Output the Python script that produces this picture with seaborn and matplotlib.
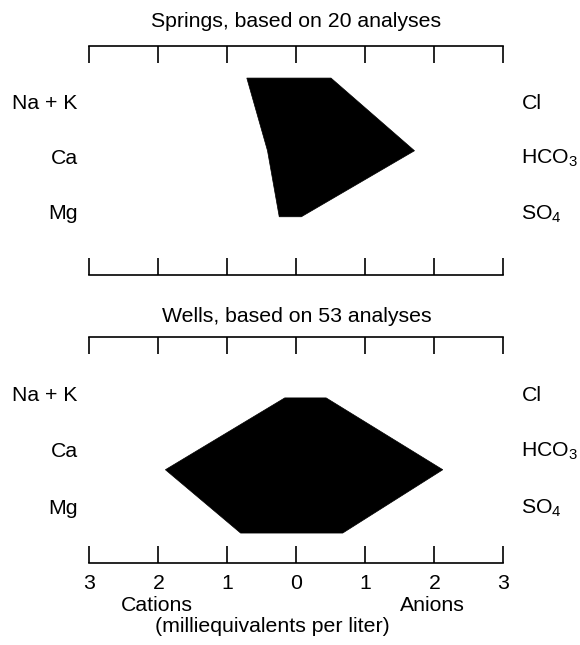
import numpy as np
import pandas as pd
import matplotlib
matplotlib.use('Agg')
import matplotlib.pyplot as plt
import matplotlib.transforms as mtransforms
import seaborn as sns

# ============================================================================
# DATA (milliequivalents per liter)
# ============================================================================

cation_labels = ['Na + K', 'Ca', 'Mg']
anion_labels = ['Cl', 'HCO$_\\mathregular{3}$', 'SO$_\\mathregular{4}$']
tick_values = [-3, -2, -1, 0, 1, 2, 3]
tick_labels = ['3', '2', '1', '0', '1', '2', '3']

springs_title = 'Springs, based on 20 analyses'
springs_cations = [0.72, 0.42, 0.25]
springs_anions = [0.50, 1.71, 0.07]
springs_rows = [0.55, 1.86, 3.05]

wells_title = 'Wells, based on 53 analyses'
wells_cations = [0.17, 1.90, 0.81]
wells_anions = [0.43, 2.12, 0.67]
wells_rows = [1.05, 2.32, 3.44]

label_rows = [1, 2, 3]

# ============================================================================
# STYLE
# ============================================================================

sns.set_theme(style='white')
plt.rcParams['font.family'] = ['Liberation Sans', 'DejaVu Sans']
plt.rcParams['mathtext.fontset'] = 'custom'
plt.rcParams['mathtext.rm'] = 'Liberation Sans'
plt.rcParams['mathtext.it'] = 'Liberation Sans:italic'
plt.rcParams['mathtext.bf'] = 'Liberation Sans:bold'
plt.rcParams['text.color'] = 'black'
plt.rcParams['xtick.color'] = 'black'
plt.rcParams['axes.labelcolor'] = 'black'

FS = 15.3

fig = plt.figure(figsize=(5.8, 6.45), dpi=100)
ax_top = fig.add_axes([0.1543, 0.5736, 0.7138, 0.3550])
ax_bot = fig.add_axes([0.1543, 0.1271, 0.7138, 0.3504])


def stiff_panel(ax, title, cations, anions, rows, ylim, title_off):
    df = pd.DataFrame({'row': rows, 'cat': cations, 'an': anions})
    # polygon: anions down the right side, cations back up the left side
    xs = list(df['an']) + list(-df['cat'][::-1])
    ys = list(df['row']) + list(df['row'][::-1])
    ax.fill(xs, ys, color='black', lw=0.5, ec='black', zorder=3)

    ax.set_xlim(-3, 3)
    ax.set_ylim(*ylim)
    ax.set_yticks([])
    ax.set_xticks(tick_values)
    sns.despine(ax=ax, left=True, right=True, top=False, bottom=False)
    for s in ['top', 'bottom']:
        ax.spines[s].set_color('black')
        ax.spines[s].set_linewidth(1.2)
    ax.tick_params(axis='x', which='both', direction='in', length=12, width=1.2,
                   color='black', top=True, bottom=True, labeltop=False,
                   labelbottom=False)

    trans = mtransforms.blended_transform_factory(ax.transData, ax.transData)
    for y, lab in zip(label_rows, cation_labels):
        ax.text(-3.17, y, lab, ha='right', va='center', fontsize=FS,
                color='black', transform=trans, clip_on=False)
    for y, lab in zip(label_rows, anion_labels):
        ax.text(3.26, y, lab, ha='left', va='center', fontsize=FS,
                color='black', transform=trans, clip_on=False)

    ax.text(0.5, 1 + title_off, title, ha='center', va='center', fontsize=FS,
            color='black', transform=ax.transAxes)


stiff_panel(ax_top, springs_title, springs_cations, springs_anions,
            springs_rows, (4.10, -0.027), 0.108)
stiff_panel(ax_bot, wells_title, wells_cations, wells_anions,
            wells_rows, (3.97, -0.027), 0.090)

# bottom axis labels
ax_bot.tick_params(axis='x', labelbottom=True, pad=8, labelsize=FS,
                   labelcolor='black')
ax_bot.set_xticklabels(tick_labels)

bt = mtransforms.blended_transform_factory(ax_bot.transData, ax_bot.transAxes)
ax_bot.text(-2.03, -0.186, 'Cations', ha='center', va='center', fontsize=FS,
            color='black', transform=bt)
ax_bot.text(1.97, -0.186, 'Anions', ha='center', va='center', fontsize=FS,
            color='black', transform=bt)
ax_bot.text(-0.35, -0.283, '(milliequivalents per liter)', ha='center',
            va='center', fontsize=FS, color='black', transform=bt)

plt.savefig('out.png', dpi=100, facecolor='white')
plt.close()
